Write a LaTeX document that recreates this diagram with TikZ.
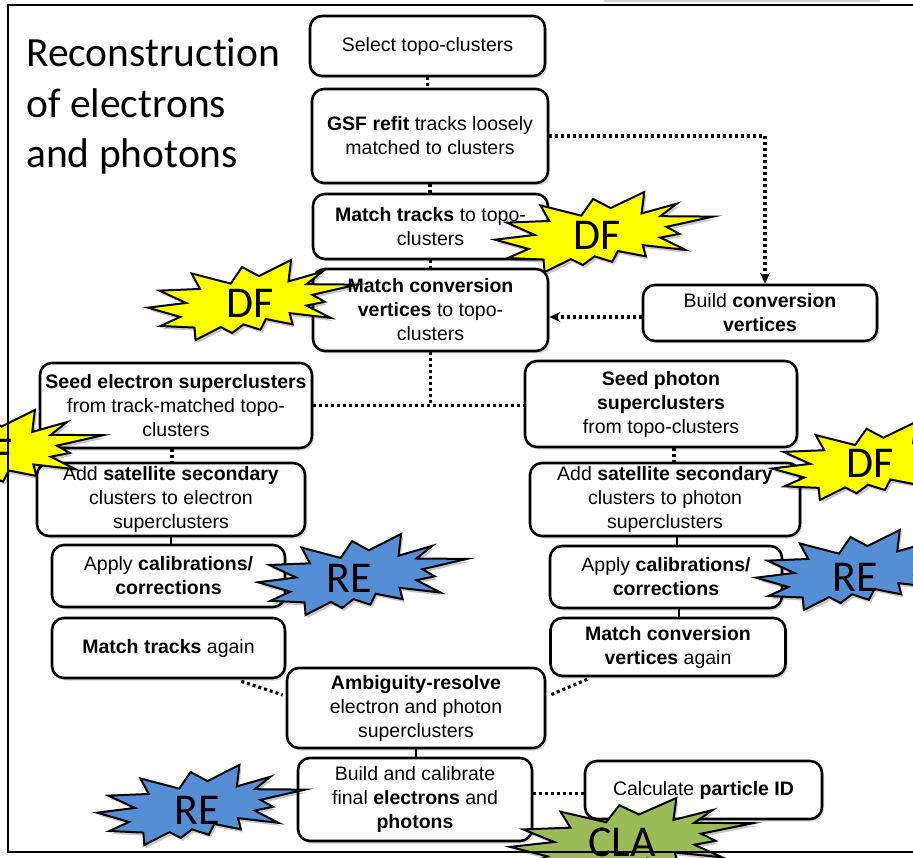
\documentclass[tikz,border=0pt]{standalone}
\usepackage{fontspec}
\setmainfont{Carlito}[RawFeature=-liga]
\newfontfamily\boxfont{Liberation Sans}
\usetikzlibrary{shadows,arrows.meta,calc}

% irregular 13-point explosion outline in a 216 x 216 box
\tikzset{
  explosion/.pic={
    \path[pic actions] (114.62,43.42) -- (147.90,0) -- (145.25,57.77) -- (180.07,31.72)
      -- (163.80,65.32) -- (216,66.45) -- (169.85,94.02) -- (182.70,112.90)
      -- (163.80,123.10) -- (188.77,156.32) -- (146.40,143.50) -- (149.42,173.70)
      -- (121.80,159.35) -- (116.12,188.42) -- (98.72,173.70) -- (87.00,197.12)
      -- (75.27,181.25) -- (49.17,216) -- (48.05,182.40) -- (12.85,178.25)
      -- (33.30,153.70) -- (0,128.77) -- (39.35,115.92) -- (11.72,82.70)
      -- (53.72,78.17) -- (45.02,36.25) -- (85.50,63.82) -- (97.22,18.87) -- cycle;
  }
}
% badge: left, top, width, height, fill colour
\newcommand\badgeshape[5]{%
  \pic[fill=black, fill opacity=0.22, shift={(#1+2,#2+3)}, xscale=#3/216, yscale=#4/216] {explosion};
  \pic[draw, line width=2pt, line join=miter, fill=#5, shift={(#1,#2)}, xscale=#3/216, yscale=#4/216] {explosion};}

\definecolor{badgeyellow}{RGB}{255,255,0}
\definecolor{badgeblue}{RGB}{85,142,213}
\definecolor{badgegreen}{RGB}{155,187,89}

\begin{document}
\begin{tikzpicture}[x=1pt,y=-1pt,
  stepbox/.style={draw, line width=2.6pt, rounded corners=12pt, fill=white,
    align=center, inner sep=0pt,
    font=\boxfont\fontsize{19.5}{24}\selectfont,
    drop shadow={opacity=0.3, shadow xshift=2pt, shadow yshift=-2.5pt}},
  dotline/.style={line width=3.2pt, dash pattern=on 3pt off 3pt},
  solidlink/.style={line width=2.5pt},
  tipped/.style={-{Stealth[length=11pt,width=10pt]}},
  badgetext/.style={inner sep=0pt, font=\fontsize{44}{44}\selectfont},
  titletext/.style={anchor=base west, inner sep=0pt, font=\fontsize{41.5}{50}\selectfont},
]
\useasboundingbox (0,0) rectangle (913,858);
\clip (0,0) rectangle (913,858);

% title
\node[titletext] (t1) at (26,67) {Reconstruction};
\node[titletext] (t2) at (26,118) {of electrons};
\node[titletext] (t3) at (26,168) {and photons};

% central chain
\node[stepbox, minimum width=235pt, minimum height=60pt] (sel) at (427.5,46) {Select topo-clusters};
\node[stepbox, minimum width=236pt, minimum height=94pt] (gsf) at (430,136) {\textbf{GSF refit} tracks loosely\\matched to clusters};
\node[stepbox, minimum width=235pt, minimum height=65pt] (mtr) at (430.5,226.5) {\textbf{Match tracks} to topo-\\clusters};
\node[stepbox, minimum width=235pt, minimum height=82pt] (mcv) at (430.5,310) {\textbf{Match conversion}\\\textbf{vertices} to topo-\\clusters};
\node[stepbox, minimum width=234pt, minimum height=56pt] (bcv) at (760,313) {Build \textbf{conversion}\\\textbf{vertices}};

% electron branch
\node[stepbox, minimum width=272pt, minimum height=85pt] (see) at (176,405.5) {\textbf{Seed electron superclusters}\\from track-matched topo-\\clusters};
\node[stepbox, minimum width=268pt, minimum height=73pt] (sate) at (171,499.5) {Add \textbf{satellite secondary}\\clusters to electron\\superclusters};
\node[stepbox, minimum width=233pt, minimum height=62pt] (cale) at (168.5,576) {Apply \textbf{calibrations/}\\\textbf{corrections}};
\node[stepbox, minimum width=233pt, minimum height=60pt] (mta) at (168.5,648) {\textbf{Match tracks} again};

% photon branch
\node[stepbox, minimum width=272pt, minimum height=86pt] (sph) at (661,404) {\textbf{Seed photon}\\\textbf{superclusters}\\from topo-clusters};
\node[stepbox, minimum width=270pt, minimum height=73pt] (satp) at (665,499.5) {Add \textbf{satellite secondary}\\clusters to photon\\superclusters};
\node[stepbox, minimum width=232pt, minimum height=62pt] (calp) at (666,577) {Apply \textbf{calibrations/}\\\textbf{corrections}};
\node[stepbox, minimum width=235pt, minimum height=58pt] (mcva) at (668,647) {\textbf{Match conversion}\\\textbf{vertices} again};

% final steps
\node[stepbox, minimum width=258pt, minimum height=80pt] (amb) at (416,708) {\textbf{Ambiguity-resolve}\\electron and photon\\superclusters};
\node[stepbox, minimum width=234pt, minimum height=83pt] (bld) at (415,799.5) {Build and calibrate\\final \textbf{electrons} and\\\textbf{photons}};
\node[stepbox, minimum width=237pt, minimum height=58pt] (pid) at (703.5,790) {Calculate \textbf{particle ID}};

% connectors
\draw[dotline] (sel.south) -- (sel.south |- gsf.north);
\draw[dotline] (gsf.south) -- (gsf.south |- mtr.north);
\draw[dotline] (mtr.south) -- (mtr.south |- mcv.north);
\draw[dotline, tipped] (gsf.east) -| ($(bcv.north)+(5,0)$);
\draw[dotline, tipped] ($(bcv.west)+(0,4)$) -- ($(bcv.west -| mcv.east)+(0,4)$);
\draw[dotline] (mcv.south) -- (mcv.south |- see.east);
\draw[dotline] (see.east) -- (see.east -| sph.west);
\draw[dotline] ($(see.south)+(-4,0)$) -- ($(see.south |- sate.north)+(-4,0)$);
\draw[solidlink] (sate.south) -- (sate.south |- cale.north);
\draw[dotline] ($(sph.south)+(13,0)$) -- ($(sph.south |- satp.north)+(13,0)$);
\draw[solidlink] ($(satp.south)+(12,0)$) -- ($(satp.south |- calp.north)+(12,0)$);
\draw[solidlink] ($(calp.south)+(13,0)$) -- ($(calp.south |- mcva.north)+(13,0)$);
\draw[dotline] ($(mta.south east)+(-45,2)$) -- ($(amb.west)+(-3,-13)$);
\draw[dotline] ($(mcva.south west)+(38,2)$) -- ($(amb.east)+(4,-13)$);
\draw[solidlink] (amb.south) -- (amb.south |- bld.north);
\draw[dotline] ($(bld.east)+(0,-6)$) -- ($(bld.east -| pid.west)+(0,-6)$);

% method badges
\badgeshape{495}{192}{218}{80}{badgeyellow}
\node[badgetext] (df1) at (597,235) {DF};
\badgeshape{148}{260}{209}{80}{badgeyellow}
\node[badgetext] (df2) at (250,303) {DF};
\badgeshape{-113}{410}{216}{82}{badgeyellow}
\node[badgetext] (df3) at (-11,453) {DF};
\badgeshape{772}{422}{210}{78}{badgeyellow}
\node[badgetext] (df4) at (870,463) {DF};
\badgeshape{258}{534}{209}{81}{badgeblue}
\node[badgetext] (re1) at (349,578) {RE};
\badgeshape{756}{530}{210}{80}{badgeblue}
\node[badgetext] (re2) at (855,577) {RE};
\badgeshape{97}{765}{208}{80}{badgeblue}
\node[badgetext] (re3) at (197,810) {RE};
\badgeshape{510}{798}{243}{82}{badgegreen}
\node[badgetext] (cla) at (622,842) {CLA};

% frame
\fill[gray!35] (604,0) rectangle (880,2);
\draw[line width=2.5pt] (930,5) -- (8,5) -- (8,852) -- (930,852);
\end{tikzpicture}
\end{document}
